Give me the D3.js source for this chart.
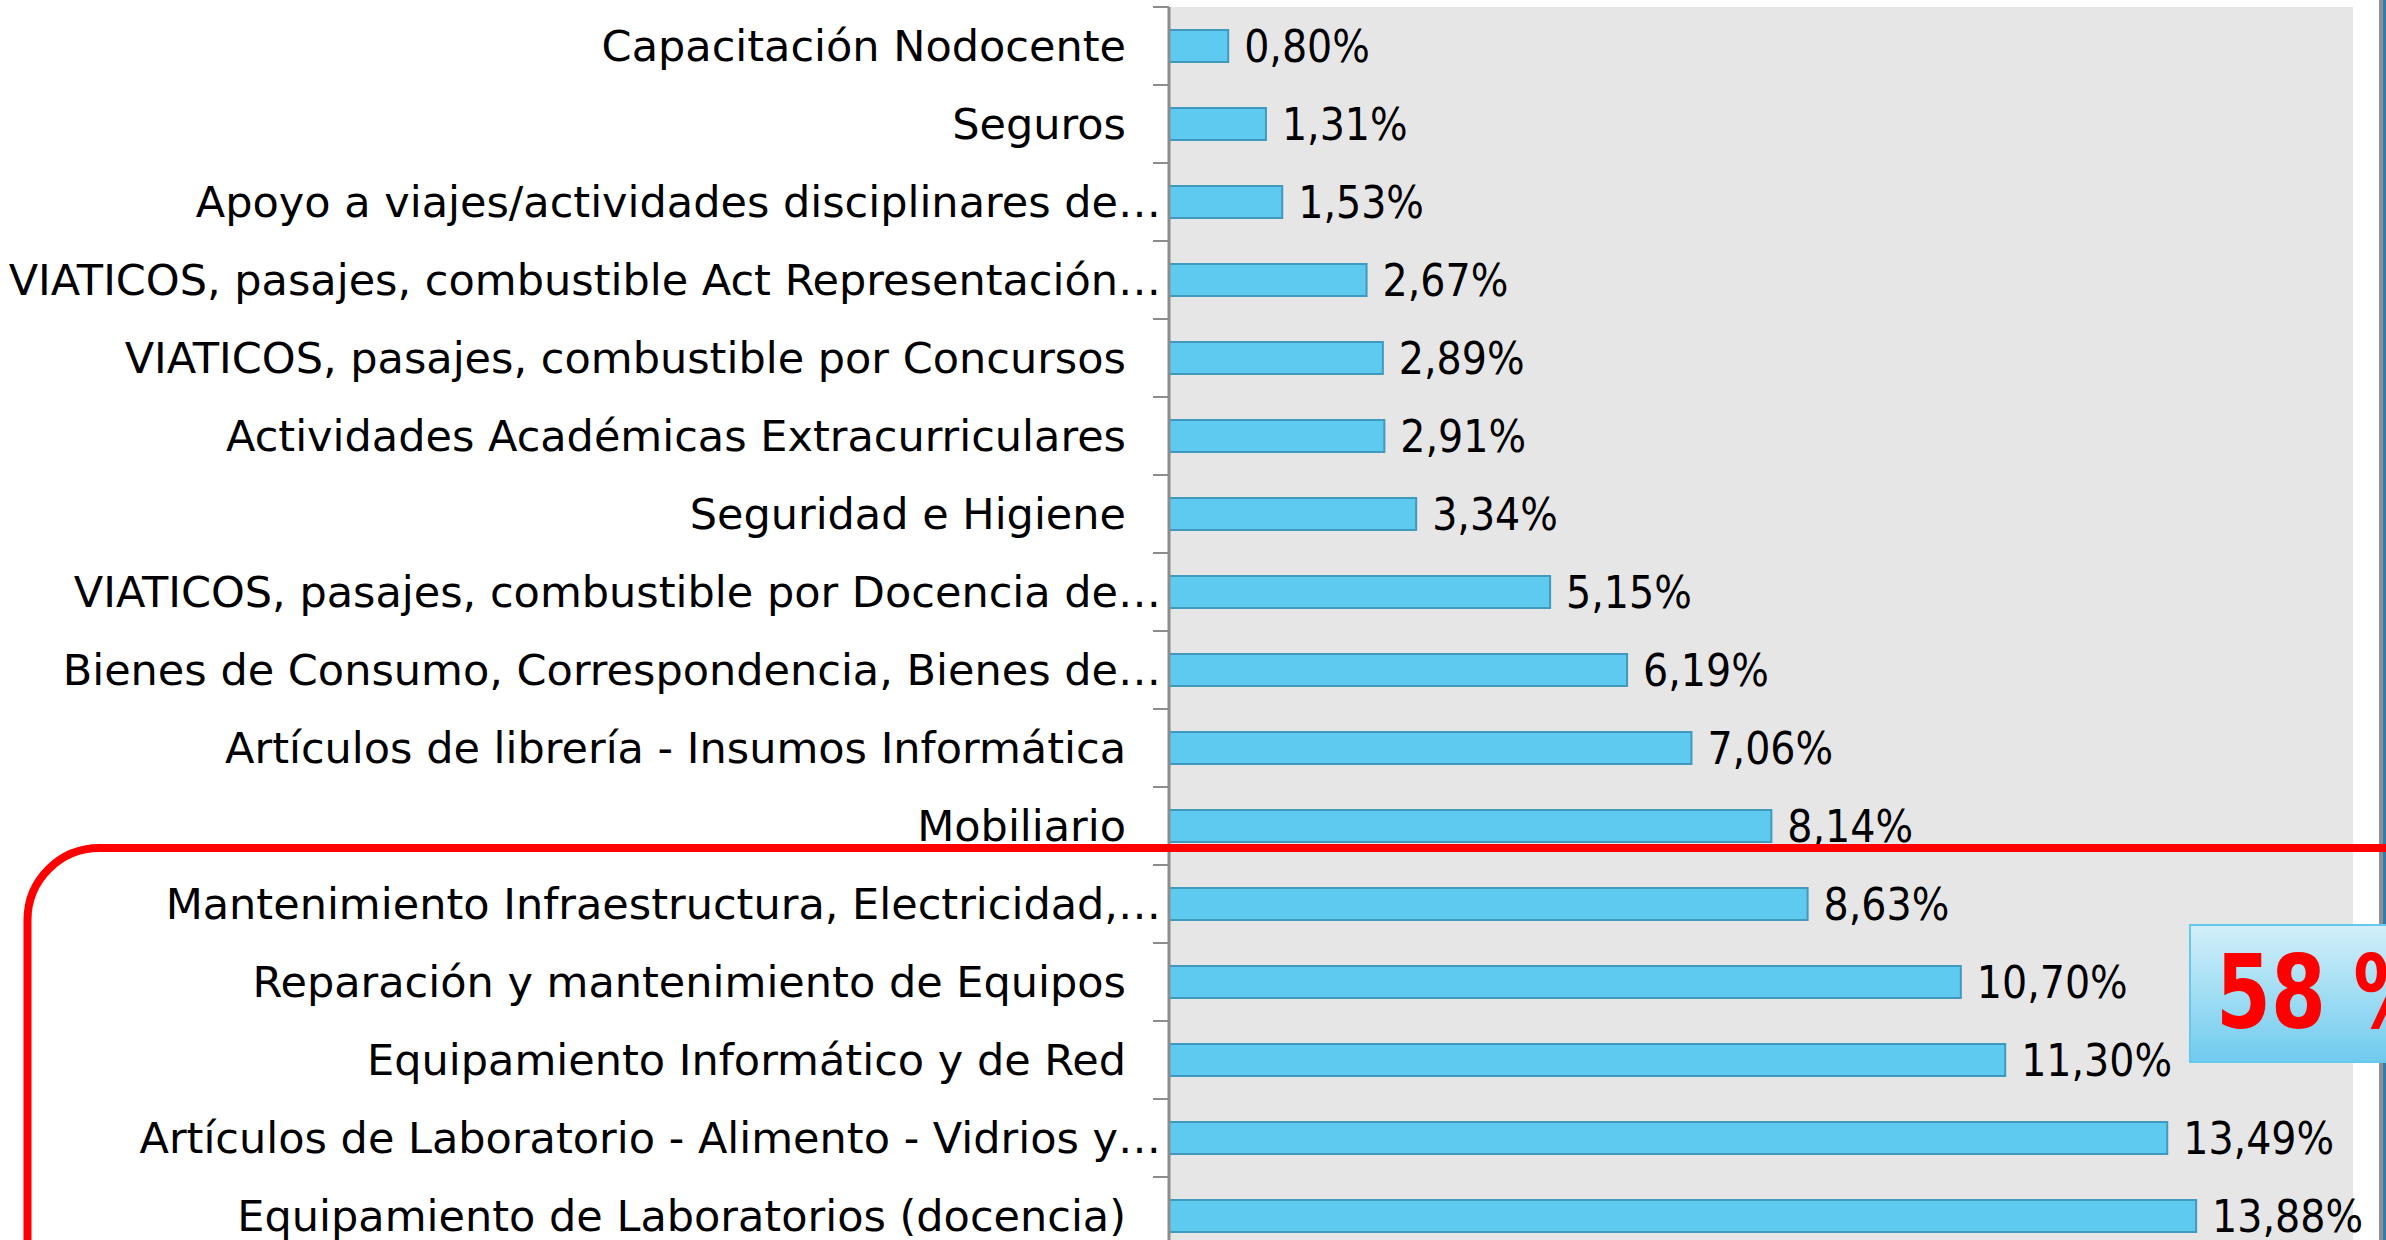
<!DOCTYPE html>
<html>
<head>
<meta charset="utf-8">
<script src="https://cdn.jsdelivr.net/npm/d3@7"></script>
<style>
  html, body { margin: 0; padding: 0; background: #fff; }
  text { font-family: "DejaVu Sans Condensed", "DejaVu Sans", sans-serif; }
</style>
</head>
<body>
<div id="chart"></div>
<script>
// Categories top to bottom, and their share (%) of the budget
var categories = [
  "Capacitación Nodocente",
  "Seguros",
  "Apoyo a viajes/actividades disciplinares de…",
  "VIATICOS, pasajes, combustible Act Representación…",
  "VIATICOS, pasajes, combustible por Concursos",
  "Actividades Académicas Extracurriculares",
  "Seguridad e Higiene",
  "VIATICOS, pasajes, combustible por Docencia de…",
  "Bienes de Consumo, Correspondencia, Bienes de…",
  "Artículos de librería - Insumos Informática",
  "Mobiliario",
  "Mantenimiento Infraestructura, Electricidad,…",
  "Reparación y mantenimiento de Equipos",
  "Equipamiento Informático y de Red",
  "Artículos de Laboratorio - Alimento - Vidrios y…",
  "Equipamiento de Laboratorios (docencia)"
];
var values = [0.80, 1.31, 1.53, 2.67, 2.89, 2.91, 3.34, 5.15, 6.19, 7.06, 8.14, 8.63, 10.70, 11.30, 13.49, 13.88];
// the last five rows are the ones boxed in red
var highlightFrom = 11;
var xDomain = [0, 16];

var svgWidth = 2386;
var svgHeight = 1240;
var axisX = 1169;
var plotTop = 7;
var plotRight = 2353;
var rowStep = 78;

var svg = d3.select("#chart")
  .append("svg")
  .attr("width", svgWidth)
  .attr("height", svgHeight);

var x = d3.scaleLinear().domain(xDomain).range([axisX, plotRight]);
var y = d3.scaleBand()
  .domain(categories)
  .range([plotTop, plotTop + rowStep * categories.length])
  .paddingInner(0.59)
  .paddingOuter(0.295);

// gray plot background
svg.append("rect")
  .attr("x", axisX)
  .attr("y", plotTop)
  .attr("width", plotRight - axisX)
  .attr("height", svgHeight)
  .attr("fill", "#e6e6e6");

// bars
svg.selectAll(".bar")
  .data(values)
  .enter()
  .append("rect")
  .attr("class", "bar")
  .attr("x", x(0))
  .attr("y", function(d, i) { return y(categories[i]); })
  .attr("width", function(d) { return x(d) - x(0); })
  .attr("height", y.bandwidth())
  .attr("fill", "#5ecaef")
  .attr("stroke", "#3f9abd")
  .attr("stroke-width", 2);

// value labels
svg.selectAll(".val")
  .data(values)
  .enter()
  .append("text")
  .attr("class", "val")
  .attr("x", function(d) { return x(d) + 16; })
  .attr("y", function(d, i) { return y(categories[i]) + y.bandwidth() / 2; })
  .attr("dy", "0.36em")
  .style("font-size", "44px")
  .text(function(d) { return d.toFixed(2).replace(".", ",") + "%"; });

// y axis labels (truncated ones sit closer to the axis)
var axis = d3.axisLeft(y).tickSize(0).tickPadding(0);
var axisG = svg.append("g")
  .attr("transform", "translate(" + axisX + ",0)")
  .call(axis);
axisG.select(".domain").remove();
axisG.selectAll(".tick text")
  .attr("x", function(d) { return d.slice(-1) === "…" ? -8 : -43; })
  .attr("dy", "0.36em")
  .attr("fill", "#000")
  .style("font-size", "43px")
  .style("font-family", "'DejaVu Sans', sans-serif");

// ticks between the bands
var tickYs = d3.range(categories.length + 1).map(function(i) { return plotTop + i * rowStep; });
svg.selectAll(".tk")
  .data(tickYs)
  .enter()
  .append("line")
  .attr("x1", axisX - 16)
  .attr("x2", axisX)
  .attr("y1", function(d) { return d; })
  .attr("y2", function(d) { return d; })
  .attr("stroke", "#8c8c8c")
  .attr("stroke-width", 2);

svg.append("line")
  .attr("x1", axisX)
  .attr("x2", axisX)
  .attr("y1", plotTop)
  .attr("y2", svgHeight)
  .attr("stroke", "#8c8c8c")
  .attr("stroke-width", 3);

// slide edge on the right
svg.append("rect").attr("x", 2379).attr("y", 0).attr("width", 4).attr("height", svgHeight).attr("fill", "#8f8f8f");
svg.append("rect").attr("x", 2383).attr("y", 0).attr("width", 3).attr("height", svgHeight).attr("fill", "#2f7db0");

// red rounded box round the highlighted rows
var boxTop = tickYs[highlightFrom] - 17;
svg.append("rect")
  .attr("x", 27.5)
  .attr("y", boxTop)
  .attr("width", 2600)
  .attr("height", 800)
  .attr("rx", 72)
  .attr("fill", "none")
  .attr("stroke", "#ff0000")
  .attr("stroke-width", 8);

// callout with the share of the highlighted rows
var grad = svg.append("defs").append("linearGradient")
  .attr("id", "callout").attr("x1", 0).attr("y1", 0).attr("x2", 0).attr("y2", 1);
grad.append("stop").attr("offset", "0%").attr("stop-color", "#d3eff9");
grad.append("stop").attr("offset", "100%").attr("stop-color", "#6fcbee");

var share = d3.sum(values.slice(highlightFrom));
var rowMid = y(categories[highlightFrom + 1]) + y.bandwidth() / 2;
svg.append("rect")
  .attr("x", 2190)
  .attr("y", rowMid - 57)
  .attr("width", 300)
  .attr("height", 137)
  .attr("fill", "url(#callout)")
  .attr("stroke", "#66c9ec")
  .attr("stroke-width", 2);

// narrow bold digits, squeezed horizontally
svg.append("text")
  .attr("transform", "translate(2216," + (rowMid + 46) + ") scale(0.86,1)")
  .attr("fill", "#ff0000")
  .style("font-size", "102px")
  .style("font-weight", "bold")
  .text(Math.round(share) + " %");
</script>
</body>
</html>
